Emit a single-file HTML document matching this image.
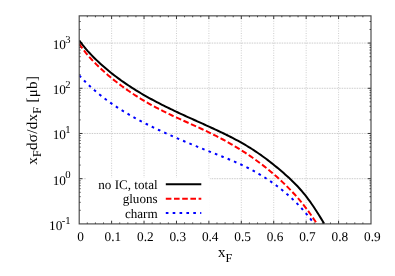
<!DOCTYPE html>
<html><head><meta charset="utf-8"><title>plot</title>
<style>
html,body{margin:0;padding:0;background:#fff;}
body{width:395px;height:276px;overflow:hidden;font-family:"Liberation Serif",serif;}
svg{display:block;will-change:transform;text-rendering:geometricPrecision;}
text{font-family:"Liberation Serif",serif;font-size:13.3px;fill:#000;}
.sm{font-size:10.7px;}
.sb{font-size:12.2px;}
.ax{font-size:15px;}
.lg{font-size:13.1px;}
</style></head><body>
<svg width="395" height="276" viewBox="0 0 395 276">
<rect x="0" y="0" width="395" height="276" fill="#fff"/>

<path d="M111.62,15.85 V223.9 M144.04,15.85 V223.9 M176.47,15.85 V223.9 M208.89,15.85 V223.9 M241.31,15.85 V223.9 M273.73,15.85 V223.9 M306.16,15.85 V223.9 M338.58,15.85 V223.9" stroke="#b8b8b8" stroke-width="0.7" stroke-dasharray="1 1.45" fill="none"/>
<path d="M79.2,178.69 H371.0 M79.2,133.48 H371.0 M79.2,88.28 H371.0 M79.2,43.07 H371.0" stroke="#b4b4b4" stroke-width="0.7" stroke-dasharray="1.5 1" fill="none"/>
<clipPath id="c"><rect x="79.2" y="15.85" width="291.8" height="208.05"/></clipPath>
<g clip-path="url(#c)" fill="none" stroke-width="2" stroke-linejoin="round">
<path d="M79.20,40.29 L80.96,42.72 L82.73,45.03 L84.49,47.24 L86.25,49.34 L88.01,51.35 L89.78,53.28 L91.54,55.13 L93.30,56.93 L95.06,58.68 L96.83,60.38 L98.59,62.05 L100.35,63.68 L102.11,65.27 L103.88,66.82 L105.64,68.35 L107.40,69.83 L109.16,71.29 L110.93,72.71 L112.69,74.11 L114.45,75.48 L116.21,76.82 L117.98,78.13 L119.74,79.42 L121.50,80.69 L123.26,81.93 L125.03,83.16 L126.79,84.36 L128.55,85.54 L130.32,86.70 L132.08,87.84 L133.84,88.96 L135.60,90.06 L137.37,91.14 L139.13,92.21 L140.89,93.26 L142.65,94.30 L144.42,95.32 L146.18,96.32 L147.94,97.31 L149.70,98.28 L151.47,99.25 L153.23,100.20 L154.99,101.13 L156.75,102.06 L158.52,102.98 L160.28,103.88 L162.04,104.78 L163.80,105.66 L165.57,106.54 L167.33,107.41 L169.09,108.27 L170.85,109.12 L172.62,109.97 L174.38,110.81 L176.14,111.64 L177.91,112.47 L179.67,113.29 L181.43,114.11 L183.19,114.92 L184.96,115.73 L186.72,116.54 L188.48,117.34 L190.24,118.14 L192.01,118.94 L193.77,119.74 L195.53,120.53 L197.29,121.33 L199.06,122.12 L200.82,122.92 L202.58,123.71 L204.34,124.51 L206.11,125.31 L207.87,126.11 L209.63,126.91 L211.39,127.72 L213.16,128.53 L214.92,129.34 L216.68,130.16 L218.44,130.98 L220.21,131.82 L221.97,132.66 L223.73,133.51 L225.49,134.36 L227.26,135.23 L229.02,136.11 L230.78,137.01 L232.55,137.92 L234.31,138.84 L236.07,139.77 L237.83,140.72 L239.60,141.69 L241.36,142.68 L243.12,143.68 L244.88,144.71 L246.65,145.75 L248.41,146.82 L250.17,147.90 L251.93,149.02 L253.70,150.15 L255.46,151.31 L257.22,152.49 L258.98,153.70 L260.75,154.93 L262.51,156.19 L264.27,157.47 L266.03,158.78 L267.80,160.11 L269.56,161.47 L271.32,162.84 L273.08,164.24 L274.85,165.67 L276.61,167.11 L278.37,168.58 L280.14,170.07 L281.90,171.58 L283.66,173.12 L285.42,174.67 L287.19,176.25 L288.95,177.86 L290.71,179.51 L292.47,181.19 L294.24,182.93 L296.00,184.71 L297.76,186.56 L299.52,188.48 L301.29,190.47 L303.05,192.54 L304.81,194.70 L306.57,196.94 L308.34,199.28 L310.10,201.71 L311.86,204.21 L313.62,206.80 L315.39,209.46 L317.15,212.20 L318.91,215.00 L320.67,217.87 L322.44,220.80 L324.20,223.78" stroke="#000"/>
<path d="M79.20,43.80 L80.91,46.31 L82.62,48.68 L84.33,50.94 L86.04,53.09 L87.75,55.14 L89.46,57.11 L91.18,59.01 L92.89,60.83 L94.60,62.61 L96.31,64.34 L98.02,66.03 L99.73,67.68 L101.44,69.29 L103.15,70.86 L104.86,72.40 L106.57,73.91 L108.28,75.39 L109.99,76.83 L111.71,78.24 L113.42,79.63 L115.13,80.99 L116.84,82.32 L118.55,83.63 L120.26,84.92 L121.97,86.19 L123.68,87.43 L125.39,88.66 L127.10,89.86 L128.81,91.04 L130.52,92.21 L132.23,93.35 L133.95,94.48 L135.66,95.59 L137.37,96.68 L139.08,97.75 L140.79,98.80 L142.50,99.84 L144.21,100.86 L145.92,101.87 L147.63,102.85 L149.34,103.83 L151.05,104.78 L152.76,105.73 L154.47,106.65 L156.19,107.57 L157.90,108.47 L159.61,109.35 L161.32,110.23 L163.03,111.09 L164.74,111.94 L166.45,112.78 L168.16,113.60 L169.87,114.42 L171.58,115.23 L173.29,116.04 L175.00,116.83 L176.72,117.62 L178.43,118.41 L180.14,119.19 L181.85,119.97 L183.56,120.74 L185.27,121.51 L186.98,122.28 L188.69,123.05 L190.40,123.82 L192.11,124.59 L193.82,125.36 L195.53,126.14 L197.24,126.92 L198.96,127.70 L200.67,128.49 L202.38,129.28 L204.09,130.08 L205.80,130.89 L207.51,131.70 L209.22,132.53 L210.93,133.36 L212.64,134.20 L214.35,135.06 L216.06,135.92 L217.77,136.80 L219.48,137.69 L221.20,138.59 L222.91,139.50 L224.62,140.43 L226.33,141.37 L228.04,142.32 L229.75,143.29 L231.46,144.27 L233.17,145.27 L234.88,146.28 L236.59,147.31 L238.30,148.35 L240.01,149.41 L241.73,150.48 L243.44,151.57 L245.15,152.68 L246.86,153.81 L248.57,154.95 L250.28,156.12 L251.99,157.30 L253.70,158.50 L255.41,159.72 L257.12,160.96 L258.83,162.22 L260.54,163.51 L262.25,164.81 L263.97,166.14 L265.68,167.49 L267.39,168.86 L269.10,170.26 L270.81,171.68 L272.52,173.12 L274.23,174.60 L275.94,176.09 L277.65,177.62 L279.36,179.17 L281.07,180.75 L282.78,182.36 L284.49,184.00 L286.21,185.67 L287.92,187.37 L289.63,189.10 L291.34,190.88 L293.05,192.69 L294.76,194.55 L296.47,196.45 L298.18,198.41 L299.89,200.41 L301.60,202.48 L303.31,204.60 L305.02,206.78 L306.74,209.02 L308.45,211.34 L310.16,213.72 L311.87,216.18 L313.58,218.71 L315.29,221.32 L317.00,224.00" stroke="#f00" stroke-dasharray="5.6 2.6"/>
<path d="M79.20,75.50 L80.89,77.30 L82.59,79.05 L84.28,80.76 L85.97,82.44 L87.67,84.08 L89.36,85.68 L91.05,87.24 L92.75,88.77 L94.44,90.26 L96.14,91.71 L97.83,93.13 L99.52,94.52 L101.22,95.88 L102.91,97.21 L104.60,98.50 L106.30,99.77 L107.99,101.01 L109.68,102.22 L111.38,103.41 L113.07,104.58 L114.76,105.72 L116.46,106.85 L118.15,107.95 L119.84,109.03 L121.54,110.09 L123.23,111.14 L124.93,112.17 L126.62,113.18 L128.31,114.18 L130.01,115.16 L131.70,116.13 L133.39,117.08 L135.09,118.02 L136.78,118.95 L138.47,119.86 L140.17,120.76 L141.86,121.65 L143.55,122.53 L145.25,123.39 L146.94,124.25 L148.63,125.09 L150.33,125.93 L152.02,126.76 L153.72,127.58 L155.41,128.39 L157.10,129.19 L158.80,129.99 L160.49,130.78 L162.18,131.56 L163.88,132.34 L165.57,133.11 L167.26,133.88 L168.96,134.64 L170.65,135.40 L172.34,136.15 L174.04,136.89 L175.73,137.64 L177.42,138.37 L179.12,139.10 L180.81,139.83 L182.51,140.55 L184.20,141.27 L185.89,141.98 L187.59,142.69 L189.28,143.40 L190.97,144.10 L192.67,144.80 L194.36,145.50 L196.05,146.19 L197.75,146.88 L199.44,147.56 L201.13,148.24 L202.83,148.92 L204.52,149.60 L206.21,150.27 L207.91,150.94 L209.60,151.61 L211.29,152.28 L212.99,152.95 L214.68,153.61 L216.38,154.28 L218.07,154.94 L219.76,155.61 L221.46,156.28 L223.15,156.96 L224.84,157.64 L226.54,158.33 L228.23,159.02 L229.92,159.72 L231.62,160.44 L233.31,161.16 L235.00,161.89 L236.70,162.63 L238.39,163.39 L240.08,164.16 L241.78,164.94 L243.47,165.74 L245.17,166.56 L246.86,167.39 L248.55,168.25 L250.25,169.12 L251.94,170.01 L253.63,170.92 L255.33,171.86 L257.02,172.82 L258.71,173.80 L260.41,174.81 L262.10,175.84 L263.79,176.89 L265.49,177.97 L267.18,179.08 L268.87,180.21 L270.57,181.37 L272.26,182.56 L273.96,183.77 L275.65,185.02 L277.34,186.29 L279.04,187.59 L280.73,188.92 L282.42,190.28 L284.12,191.67 L285.81,193.09 L287.50,194.54 L289.20,196.03 L290.89,197.56 L292.58,199.13 L294.28,200.74 L295.97,202.41 L297.66,204.12 L299.36,205.89 L301.05,207.72 L302.75,209.61 L304.44,211.56 L306.13,213.58 L307.83,215.64 L309.52,217.73 L311.21,219.82 L312.91,221.88 L314.60,223.89" stroke="#00f" stroke-dasharray="2.63 4.24"/>
</g>
<rect x="86" y="177.6" width="123.8" height="45.80" fill="#fff"/>
<g fill="none" stroke-width="2">
<path d="M165.8,184.2 H201.3" stroke="#000"/>
<path d="M165.8,198.7 H201.3" stroke="#f00" stroke-dasharray="5.6 2.6"/>
<path d="M165.8,213.1 H201.3" stroke="#00f" stroke-dasharray="2.63 4.24"/>
</g>
<path d="M87.31,223.9 v-1.4 M87.31,15.85 v1.4 M95.41,223.9 v-1.4 M95.41,15.85 v1.4 M103.52,223.9 v-1.4 M103.52,15.85 v1.4 M111.62,223.9 v-3.2 M111.62,15.85 v3.2 M119.73,223.9 v-1.4 M119.73,15.85 v1.4 M127.83,223.9 v-1.4 M127.83,15.85 v1.4 M135.94,223.9 v-1.4 M135.94,15.85 v1.4 M144.04,223.9 v-3.2 M144.04,15.85 v3.2 M152.15,223.9 v-1.4 M152.15,15.85 v1.4 M160.26,223.9 v-1.4 M160.26,15.85 v1.4 M168.36,223.9 v-1.4 M168.36,15.85 v1.4 M176.47,223.9 v-3.2 M176.47,15.85 v3.2 M184.57,223.9 v-1.4 M184.57,15.85 v1.4 M192.68,223.9 v-1.4 M192.68,15.85 v1.4 M200.78,223.9 v-1.4 M200.78,15.85 v1.4 M208.89,223.9 v-3.2 M208.89,15.85 v3.2 M216.99,223.9 v-1.4 M216.99,15.85 v1.4 M225.10,223.9 v-1.4 M225.10,15.85 v1.4 M233.21,223.9 v-1.4 M233.21,15.85 v1.4 M241.31,223.9 v-3.2 M241.31,15.85 v3.2 M249.42,223.9 v-1.4 M249.42,15.85 v1.4 M257.52,223.9 v-1.4 M257.52,15.85 v1.4 M265.63,223.9 v-1.4 M265.63,15.85 v1.4 M273.73,223.9 v-3.2 M273.73,15.85 v3.2 M281.84,223.9 v-1.4 M281.84,15.85 v1.4 M289.94,223.9 v-1.4 M289.94,15.85 v1.4 M298.05,223.9 v-1.4 M298.05,15.85 v1.4 M306.16,223.9 v-3.2 M306.16,15.85 v3.2 M314.26,223.9 v-1.4 M314.26,15.85 v1.4 M322.37,223.9 v-1.4 M322.37,15.85 v1.4 M330.47,223.9 v-1.4 M330.47,15.85 v1.4 M338.58,223.9 v-3.2 M338.58,15.85 v3.2 M346.68,223.9 v-1.4 M346.68,15.85 v1.4 M354.79,223.9 v-1.4 M354.79,15.85 v1.4 M362.89,223.9 v-1.4 M362.89,15.85 v1.4 M79.2,210.29 h1.4 M371.0,210.29 h-1.4 M79.2,202.33 h1.4 M371.0,202.33 h-1.4 M79.2,196.68 h1.4 M371.0,196.68 h-1.4 M79.2,192.30 h1.4 M371.0,192.30 h-1.4 M79.2,188.72 h1.4 M371.0,188.72 h-1.4 M79.2,185.69 h1.4 M371.0,185.69 h-1.4 M79.2,183.07 h1.4 M371.0,183.07 h-1.4 M79.2,180.76 h1.4 M371.0,180.76 h-1.4 M79.2,178.69 h3.2 M371.0,178.69 h-3.2 M79.2,165.08 h1.4 M371.0,165.08 h-1.4 M79.2,157.12 h1.4 M371.0,157.12 h-1.4 M79.2,151.47 h1.4 M371.0,151.47 h-1.4 M79.2,147.09 h1.4 M371.0,147.09 h-1.4 M79.2,143.51 h1.4 M371.0,143.51 h-1.4 M79.2,140.49 h1.4 M371.0,140.49 h-1.4 M79.2,137.87 h1.4 M371.0,137.87 h-1.4 M79.2,135.55 h1.4 M371.0,135.55 h-1.4 M79.2,133.48 h3.2 M371.0,133.48 h-3.2 M79.2,119.88 h1.4 M371.0,119.88 h-1.4 M79.2,111.91 h1.4 M371.0,111.91 h-1.4 M79.2,106.27 h1.4 M371.0,106.27 h-1.4 M79.2,101.88 h1.4 M371.0,101.88 h-1.4 M79.2,98.31 h1.4 M371.0,98.31 h-1.4 M79.2,95.28 h1.4 M371.0,95.28 h-1.4 M79.2,92.66 h1.4 M371.0,92.66 h-1.4 M79.2,90.34 h1.4 M371.0,90.34 h-1.4 M79.2,88.28 h3.2 M371.0,88.28 h-3.2 M79.2,74.67 h1.4 M371.0,74.67 h-1.4 M79.2,66.71 h1.4 M371.0,66.71 h-1.4 M79.2,61.06 h1.4 M371.0,61.06 h-1.4 M79.2,56.68 h1.4 M371.0,56.68 h-1.4 M79.2,53.10 h1.4 M371.0,53.10 h-1.4 M79.2,50.07 h1.4 M371.0,50.07 h-1.4 M79.2,47.45 h1.4 M371.0,47.45 h-1.4 M79.2,45.14 h1.4 M371.0,45.14 h-1.4 M79.2,43.07 h3.2 M371.0,43.07 h-3.2 M79.2,29.46 h1.4 M371.0,29.46 h-1.4 M79.2,21.50 h1.4 M371.0,21.50 h-1.4" stroke="#000" stroke-width="0.8" fill="none"/>
<rect x="79.2" y="15.85" width="291.8" height="208.05" fill="none" stroke="#484848" stroke-width="1.15"/>
<text x="80.50" y="241.2" text-anchor="middle">0</text>
<text x="112.92" y="241.2" text-anchor="middle">0.1</text>
<text x="145.34" y="241.2" text-anchor="middle">0.2</text>
<text x="177.77" y="241.2" text-anchor="middle">0.3</text>
<text x="210.19" y="241.2" text-anchor="middle">0.4</text>
<text x="242.61" y="241.2" text-anchor="middle">0.5</text>
<text x="275.03" y="241.2" text-anchor="middle">0.6</text>
<text x="307.46" y="241.2" text-anchor="middle">0.7</text>
<text x="339.88" y="241.2" text-anchor="middle">0.8</text>
<text x="372.30" y="241.2" text-anchor="middle">0.9</text>
<text x="70.6" y="229.80" text-anchor="end">10<tspan class="sm" dx="-0.7" dy="-6.1">-1</tspan></text>
<text x="70.6" y="184.59" text-anchor="end">10<tspan class="sm" dx="-0.7" dy="-6.1">0</tspan></text>
<text x="70.6" y="139.38" text-anchor="end">10<tspan class="sm" dx="-0.7" dy="-6.1">1</tspan></text>
<text x="70.6" y="94.18" text-anchor="end">10<tspan class="sm" dx="-0.7" dy="-6.1">2</tspan></text>
<text x="70.6" y="48.97" text-anchor="end">10<tspan class="sm" dx="-0.7" dy="-6.1">3</tspan></text>
<text class="lg" x="157.6" y="188.9" text-anchor="end">no IC, total</text>
<text class="lg" x="157.6" y="203.3" text-anchor="end">gluons</text>
<text class="lg" x="157.6" y="217.7" text-anchor="end">charm</text>
<text class="ax" x="217.9" y="256.7">x<tspan class="sb" dx="0.1" dy="5.1">F</tspan></text>
<text class="ax" transform="translate(36.9,120.3) rotate(-90)" text-anchor="middle" letter-spacing="0.3">x<tspan class="sb" dy="4.5">F</tspan><tspan dy="-4.5">dσ/dx</tspan><tspan class="sb" dy="4.5">F</tspan><tspan dy="-4.5"> [μb]</tspan></text>
</svg></body></html>
